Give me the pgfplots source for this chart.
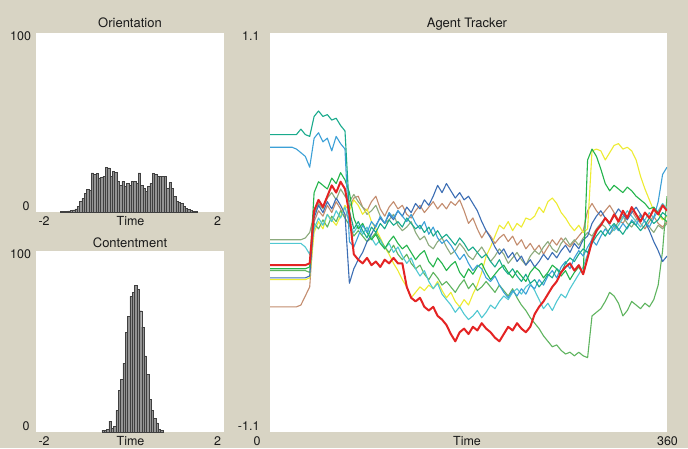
\documentclass[border=0pt]{standalone}
\usepackage{pgfplots}
\pgfplotsset{compat=1.18}
\usepackage{pgfplotstable}
\usepackage{fontspec}
\setmainfont{TeX Gyre Heros}
\definecolor{bg}{RGB}{216,212,196}
\definecolor{txt}{RGB}{25,25,25}
\definecolor{cT}{RGB}{25,170,140}
\definecolor{cS}{RGB}{60,160,215}
\definecolor{cG}{RGB}{140,170,125}
\definecolor{cC}{RGB}{80,200,210}
\definecolor{cR}{RGB}{228,35,35}
\definecolor{cL}{RGB}{35,180,75}
\definecolor{cGt}{RGB}{95,180,95}
\definecolor{cB}{RGB}{60,110,180}
\definecolor{cY}{RGB}{238,236,50}
\definecolor{cBr}{RGB}{195,140,110}
\newcommand\lab{\fontsize{12.5}{14}\selectfont}
\newcommand\ttl{\fontsize{13}{15}\selectfont}

\pgfplotstableread{
x c
-1.45 0.5
-1.40 0.4
-1.35 0.4
-1.30 0.6
-1.25 0.8
-1.20 1.2
-1.15 1.8
-1.10 3.2
-1.05 6.0
-1.00 7.6
-0.95 10.5
-0.90 12.5
-0.85 12.0
-0.80 21.8
-0.75 21.0
-0.70 21.4
-0.65 19.0
-0.60 19.5
-0.55 20.0
-0.50 25.0
-0.45 24.6
-0.40 20.0
-0.35 22.7
-0.30 22.0
-0.25 17.0
-0.20 15.0
-0.15 17.0
-0.10 14.3
-0.05 16.0
0.00 15.0
0.05 17.0
0.10 17.0
0.15 16.0
0.20 21.8
0.25 15.0
0.30 13.4
0.35 11.5
0.40 14.3
0.45 16.0
0.50 21.4
0.55 21.0
0.60 20.0
0.65 20.0
0.70 20.0
0.75 20.0
0.80 13.4
0.85 16.6
0.90 13.4
0.95 8.8
1.00 6.0
1.05 5.4
1.10 4.7
1.15 3.2
1.20 2.2
1.25 1.3
1.30 0.9
1.35 0.4
1.40 0.3
}\orient

\pgfplotstableread{
x c
-0.575 1
-0.525 1
-0.475 1.5
-0.425 6
-0.375 2
-0.325 3
-0.275 12
-0.225 23
-0.175 29
-0.125 38
-0.075 55
-0.025 64
0.025 75
0.075 77
0.125 81
0.175 79
0.225 67
0.275 58
0.325 42
0.375 32
0.425 18
0.475 12
0.525 7.5
0.575 5
0.625 1.5
0.675 1
}\content

\pgfplotstableread{
x T S G C R L Gt B Y Br
0 0.54 0.47 -0.04 -0.06 -0.18 -0.20 -0.21 -0.25 -0.26 -0.41
4 0.54 0.47 -0.04 -0.06 -0.18 -0.20 -0.21 -0.25 -0.26 -0.41
8 0.54 0.47 -0.04 -0.06 -0.18 -0.20 -0.21 -0.25 -0.26 -0.41
12 0.54 0.47 -0.04 -0.06 -0.18 -0.20 -0.21 -0.25 -0.26 -0.41
16 0.54 0.47 -0.04 -0.06 -0.18 -0.20 -0.21 -0.25 -0.26 -0.41
20 0.54 0.47 -0.04 -0.06 -0.18 -0.20 -0.21 -0.25 -0.26 -0.41
24 0.54 0.46 -0.04 -0.06 -0.18 -0.20 -0.21 -0.25 -0.26 -0.41
28 0.57 0.44 -0.04 -0.06 -0.18 -0.20 -0.21 -0.25 -0.26 -0.40
32 0.54 0.42 -0.03 -0.08 -0.18 -0.20 -0.21 -0.25 -0.26 -0.35
36 0.53 0.36 0.00 -0.12 -0.17 -0.19 -0.22 -0.24 -0.25 -0.30
40 0.64 0.52 0.10 0.02 0.12 0.22 0.05 0.08 0.00 0.06
44 0.67 0.55 0.16 0.08 0.18 0.28 0.02 0.15 0.06 0.12
48 0.64 0.50 0.13 0.04 0.14 0.26 0.07 0.11 0.02 0.09
52 0.65 0.52 0.19 0.10 0.20 0.24 0.03 0.17 0.10 0.15
56 0.62 0.45 0.22 0.06 0.26 0.30 0.09 0.13 0.07 0.11
60 0.63 0.53 0.18 0.12 0.22 0.27 0.06 0.19 0.04 0.17
64 0.59 0.49 0.24 0.08 0.28 0.33 0.12 0.15 0.09 0.13
68 0.56 0.46 0.20 0.14 0.24 0.29 0.08 0.10 0.15 0.08
72 0.12 -0.05 0.17 0.05 0.10 0.22 0.04 -0.28 0.12 0.14
76 0.02 -0.08 0.21 0.00 -0.12 0.08 -0.02 -0.20 0.18 0.19
80 0.06 -0.02 0.17 0.04 -0.15 0.02 0.01 -0.15 0.15 0.20
84 0.01 0.04 0.14 -0.01 -0.17 0.05 -0.02 -0.11 0.10 0.14
88 -0.03 0.00 0.10 0.03 -0.14 0.00 -0.05 -0.05 0.13 0.12
92 0.03 0.06 0.12 -0.03 -0.18 -0.04 -0.03 -0.01 0.06 0.17
96 0.00 0.03 0.15 -0.07 -0.16 -0.01 0.00 0.04 0.02 0.20
100 0.05 0.09 0.09 -0.04 -0.19 -0.06 -0.04 0.08 -0.03 0.13
104 0.02 0.05 0.05 -0.09 -0.15 -0.09 -0.08 0.05 -0.08 0.09
108 0.07 0.11 0.07 -0.06 -0.17 -0.05 -0.11 0.10 -0.12 0.14
112 0.04 0.08 0.10 -0.11 -0.14 -0.02 -0.07 0.07 -0.17 0.17
116 0.06 0.12 0.04 -0.08 -0.17 -0.06 -0.12 0.12 -0.21 0.13
120 0.03 0.09 0.01 -0.13 -0.17 -0.09 -0.15 0.09 -0.26 0.15
124 0.08 0.06 0.03 -0.17 -0.30 -0.07 -0.12 0.14 -0.30 0.10
128 0.05 0.10 0.06 -0.14 -0.36 -0.11 -0.17 0.11 -0.36 0.08
132 0.02 0.05 0.00 -0.20 -0.38 -0.15 -0.20 0.16 -0.33 0.12
136 0.04 0.02 -0.04 -0.24 -0.36 -0.12 -0.18 0.13 -0.30 0.15
140 0.00 0.06 -0.02 -0.21 -0.41 -0.10 -0.23 0.18 -0.32 0.11
144 0.03 -0.01 -0.07 -0.27 -0.43 -0.16 -0.26 0.15 -0.29 0.14
148 -0.02 0.03 -0.09 -0.31 -0.41 -0.19 -0.22 0.20 -0.31 0.17
152 0.01 -0.03 -0.05 -0.28 -0.46 -0.14 -0.25 0.26 -0.27 0.13
156 -0.03 -0.06 -0.03 -0.34 -0.48 -0.17 -0.29 0.22 -0.32 0.16
160 -0.01 -0.04 -0.08 -0.37 -0.51 -0.21 -0.27 0.27 -0.36 0.13
164 -0.04 -0.07 -0.12 -0.40 -0.56 -0.18 -0.30 0.23 -0.33 0.17
168 -0.07 -0.11 -0.10 -0.44 -0.60 -0.16 -0.33 0.19 -0.38 0.15
172 -0.03 -0.15 -0.06 -0.41 -0.55 -0.22 -0.29 0.22 -0.41 0.18
176 -0.06 -0.12 -0.09 -0.45 -0.53 -0.25 -0.26 0.18 -0.37 0.12
180 -0.10 -0.17 -0.13 -0.48 -0.56 -0.20 -0.31 0.20 -0.40 0.05
184 -0.08 -0.21 -0.15 -0.46 -0.52 -0.23 -0.28 0.16 -0.34 0.08
188 -0.11 -0.18 -0.11 -0.43 -0.54 -0.19 -0.32 0.12 -0.29 0.02
192 -0.14 -0.20 -0.08 -0.47 -0.50 -0.17 -0.30 0.06 -0.22 -0.03
196 -0.12 -0.25 -0.12 -0.44 -0.53 -0.22 -0.27 0.01 -0.13 0.01
200 -0.16 -0.27 -0.16 -0.40 -0.55 -0.26 -0.30 -0.03 -0.08 -0.02
204 -0.19 -0.24 -0.13 -0.42 -0.58 -0.23 -0.33 -0.08 -0.02 -0.06
208 -0.15 -0.29 -0.09 -0.38 -0.60 -0.20 -0.29 -0.12 0.04 -0.03
212 -0.20 -0.33 -0.12 -0.35 -0.56 -0.18 -0.32 -0.09 0.02 -0.01
216 -0.23 -0.36 -0.17 -0.37 -0.52 -0.22 -0.35 -0.14 0.06 -0.05
220 -0.20 -0.32 -0.14 -0.33 -0.54 -0.25 -0.31 -0.11 0.01 -0.02
224 -0.24 -0.35 -0.11 -0.31 -0.50 -0.21 -0.36 -0.16 0.05 -0.07
228 -0.27 -0.31 -0.15 -0.34 -0.53 -0.24 -0.40 -0.13 0.03 -0.04
232 -0.23 -0.34 -0.18 -0.30 -0.55 -0.27 -0.43 -0.18 0.08 -0.09
236 -0.28 -0.29 -0.13 -0.28 -0.52 -0.22 -0.47 -0.15 0.07 -0.06
240 -0.26 -0.31 -0.10 -0.32 -0.45 -0.19 -0.50 -0.19 0.09 -0.10
244 -0.30 -0.26 -0.12 -0.37 -0.41 -0.21 -0.53 -0.16 0.14 -0.07
248 -0.27 -0.29 -0.08 -0.42 -0.38 -0.25 -0.57 -0.12 0.11 -0.12
252 -0.23 -0.24 -0.05 -0.39 -0.34 -0.22 -0.60 -0.15 0.17 -0.08
256 -0.25 -0.21 -0.09 -0.43 -0.30 -0.18 -0.63 -0.11 0.19 -0.04
260 -0.20 -0.25 -0.11 -0.38 -0.27 -0.20 -0.62 -0.14 0.16 -0.07
264 -0.22 -0.19 -0.06 -0.34 -0.22 -0.24 -0.65 -0.10 0.11 -0.03
268 -0.17 -0.16 -0.03 -0.36 -0.19 -0.21 -0.67 -0.07 0.08 -0.06
272 -0.14 -0.20 -0.07 -0.31 -0.17 -0.26 -0.66 -0.11 0.04 -0.08
276 -0.16 -0.14 -0.04 -0.27 -0.21 -0.22 -0.68 -0.06 0.01 -0.05
280 -0.12 -0.10 -0.07 -0.23 -0.18 -0.19 -0.66 -0.09 0.04 -0.02
284 -0.09 -0.13 -0.03 -0.19 -0.23 -0.23 -0.68 -0.04 0.00 0.01
288 -0.11 -0.08 0.00 -0.12 -0.14 0.40 -0.69 -0.02 0.02 0.12
292 -0.06 -0.04 -0.02 -0.03 -0.05 0.46 -0.46 0.05 0.45 0.16
296 -0.02 -0.07 0.02 0.00 0.01 0.42 -0.44 0.09 0.46 0.12
300 0.01 -0.02 0.05 0.05 0.04 0.35 -0.42 0.12 0.45 0.09
304 -0.02 0.02 0.03 0.08 0.08 0.27 -0.38 0.08 0.40 0.12
308 0.02 -0.01 -0.01 0.04 0.05 0.23 -0.33 0.05 0.44 0.15
312 0.05 0.04 0.02 0.01 0.10 0.26 -0.35 0.09 0.48 0.11
316 0.02 0.01 0.06 0.04 0.06 0.24 -0.39 0.13 0.49 0.07
320 -0.01 0.05 0.09 0.08 0.12 0.22 -0.46 0.10 0.46 0.05
324 0.03 0.02 0.05 0.12 0.08 0.25 -0.43 0.07 0.47 0.09
328 0.06 0.07 0.03 0.09 0.14 0.23 -0.38 0.11 0.45 0.12
332 0.04 0.04 0.07 0.06 0.10 0.20 -0.40 0.14 0.40 0.08
336 0.01 0.09 0.10 0.03 0.06 0.18 -0.42 0.10 0.31 0.05
340 0.04 0.06 0.06 0.07 0.11 0.16 -0.39 0.06 0.24 0.02
344 0.08 0.03 0.03 0.11 0.08 0.13 -0.41 0.01 0.18 0.06
348 0.05 0.08 0.00 0.08 0.13 0.14 -0.37 -0.05 0.12 0.09
352 0.07 0.17 0.04 0.12 0.10 0.11 -0.29 -0.10 0.10 0.05
356 0.11 0.32 0.02 0.16 0.15 0.08 -0.10 -0.16 0.07 0.03
360 0.09 0.36 0.05 0.13 0.12 0.06 0.20 -0.13 0.09 0.06
}\tracker

\pgfplotsset{
  netlogo/.style={
    scale only axis, anchor=south west,
    axis background/.style={fill=white},
    axis line style={draw=none},
    ticks=none, clip=true,
  },
  histbar/.style={ybar, bar width=0.05, bar shift=0pt,
    fill=black!42, draw=black!75, line width=0.45pt},
  trk/.style={line width=1.1pt, line join=round, mark=none},
}

\begin{document}
\begin{tikzpicture}[x=1pt,y=1pt]
\useasboundingbox (0,0) rectangle (688,448);
\fill[bg] (0,0) rectangle (688,448);

% Orientation
\begin{axis}[netlogo, at={(36pt,236pt)}, width=188pt, height=179pt,
  xmin=-2, xmax=2, ymin=0, ymax=100]
  \addplot[histbar] table[x=x, y=c] {\orient};
\end{axis}
% Contentment
\begin{axis}[netlogo, at={(36pt,16pt)}, width=188pt, height=181pt,
  xmin=-2, xmax=2, ymin=0, ymax=100]
  \addplot[histbar] table[x=x, y=c] {\content};
\end{axis}
% Agent Tracker
\begin{axis}[netlogo, at={(270pt,16pt)}, width=397pt, height=399pt,
  xmin=0, xmax=360, ymin=-1.1, ymax=1.1]
  \addplot[trk, cBr] table[x=x, y=Br] {\tracker};
  \addplot[trk, cG] table[x=x, y=G] {\tracker};
  \addplot[trk, cY] table[x=x, y=Y] {\tracker};
  \addplot[trk, cGt] table[x=x, y=Gt] {\tracker};
  \addplot[trk, cC] table[x=x, y=C] {\tracker};
  \addplot[trk, cB] table[x=x, y=B] {\tracker};
  \addplot[trk, cL] table[x=x, y=L] {\tracker};
  \addplot[trk, cS] table[x=x, y=S] {\tracker};
  \addplot[trk, cT] table[x=x, y=T] {\tracker};
  \addplot[trk, cR, line width=2pt] table[x=x, y=R] {\tracker};
\end{axis}

% texts
\begin{scope}[text=txt]
\node at (130,425) {\ttl Orientation};
\node[anchor=east] at (34.5,412) {\lab 100};
\node[anchor=east] at (33,242) {\lab 0};
\node[anchor=west] at (35,227) {\lab -2};
\node at (130.5,227) {\lab Time};
\node[anchor=east] at (224.5,227) {\lab 2};

\node at (130,205) {\ttl Contentment};
\node[anchor=east] at (34.5,194) {\lab 100};
\node[anchor=east] at (33,22) {\lab 0};
\node[anchor=west] at (35,7) {\lab -2};
\node at (130.5,7) {\lab Time};
\node[anchor=east] at (224.5,7) {\lab 2};

\node at (467,424) {\ttl Agent Tracker};
\node[anchor=east] at (263,412) {\lab 1.1};
\node[anchor=east] at (263,22) {\lab -1.1};
\node[anchor=east] at (264,7) {\lab 0};
\node at (467,7) {\lab Time};
\node at (667.5,7) {\lab 360};
\end{scope}
\end{tikzpicture}
\end{document}
